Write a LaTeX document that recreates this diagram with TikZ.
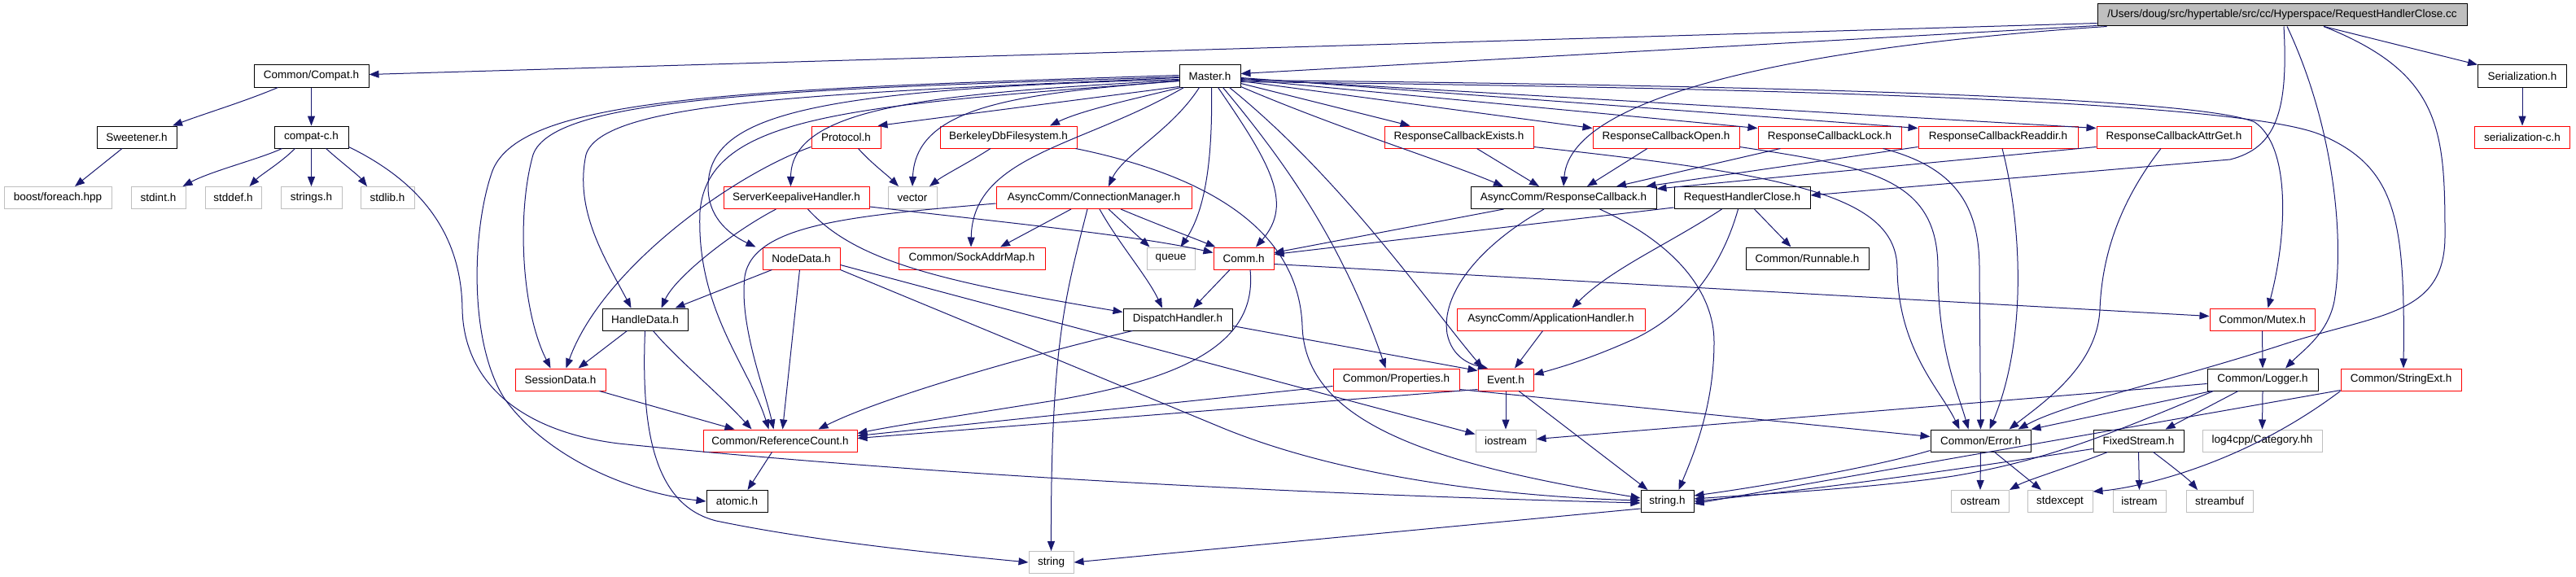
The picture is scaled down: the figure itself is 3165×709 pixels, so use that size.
\documentclass[tikz,border=0pt]{standalone}
\usepackage{fontspec}
\setmainfont{Liberation Sans}
\usetikzlibrary{arrows.meta,calc}
\definecolor{edgec}{HTML}{191970}
\definecolor{grayc}{HTML}{BFBFBF}
\definecolor{redc}{HTML}{FF0000}
\tikzset{
  nd/.style={draw, rectangle, minimum height=27pt, inner sep=0pt, line width=1pt,
    font=\fontsize{13.5}{16}\selectfont, text=black},
  blk/.style={nd, draw=black},
  redn/.style={nd, draw=redc},
  grayn/.style={nd, draw=grayc},
  e/.style={draw=edgec, line width=1pt, -{Triangle[length=12pt,width=9pt]}}
}
\begin{document}
\begin{tikzpicture}[x=1pt,y=-1pt]
\fill[white] (0,0) rectangle (3165,709);
\useasboundingbox (0,0) rectangle (3165,709);
% row 0
\node[blk, fill=grayc, minimum width=454pt] (cc) at (2804,18.5) {/Users/doug/src/hypertable/src/cc/Hyperspace/RequestHandlerClose.cc};
% row 1
\node[blk, minimum width=141pt] (compat) at (382.5,93.5) {Common/Compat.h};
\node[blk, minimum width=75pt] (master) at (1486.5,93.5) {Master.h};
\node[blk, minimum width=109pt] (serial) at (3099,93.5) {Serialization.h};
% row 2
\node[blk, minimum width=98pt] (sweet) at (168,168.5) {Sweetener.h};
\node[blk, minimum width=91pt] (compatc) at (382.5,168.5) {compat-c.h};
\node[redn, minimum width=85pt] (protocol) at (1039.5,168.5) {Protocol.h};
\node[redn, minimum width=168pt] (berkeley) at (1239,168.5) {BerkeleyDbFilesystem.h};
\node[redn, minimum width=183pt] (exists) at (1792.5,168.5) {ResponseCallbackExists.h};
\node[redn, minimum width=180pt] (open) at (2047,168.5) {ResponseCallbackOpen.h};
\node[redn, minimum width=176pt] (lock) at (2248,168.5) {ResponseCallbackLock.h};
\node[redn, minimum width=196pt] (readdir) at (2455,168.5) {ResponseCallbackReaddir.h};
\node[redn, minimum width=190pt] (attrget) at (2671,168.5) {ResponseCallbackAttrGet.h};
\node[redn, minimum width=117pt] (serialc) at (3099,168.5) {serialization-c.h};
% row 3
\node[grayn, minimum width=132pt] (boost) at (71,243) {boost/foreach.hpp};
\node[grayn, minimum width=67pt] (stdint) at (194.5,243) {stdint.h};
\node[grayn, minimum width=69pt] (stddef) at (286.5,243) {stddef.h};
\node[grayn, minimum width=75pt] (strings) at (382.5,243) {strings.h};
\node[grayn, minimum width=66pt] (stdlib) at (476,243) {stdlib.h};
\node[redn, minimum width=179pt] (skh) at (978.5,243) {ServerKeepaliveHandler.h};
\node[grayn, minimum width=60pt] (vector) at (1121,243) {vector};
\node[redn, minimum width=240pt] (cm) at (1344,243) {AsyncComm/ConnectionManager.h};
\node[blk, minimum width=228pt] (rcb) at (1921,243) {AsyncComm/ResponseCallback.h};
\node[blk, minimum width=167pt] (rhc) at (2140.5,243) {RequestHandlerClose.h};
% row 4
\node[redn, minimum width=95pt] (nodedata) at (984.5,317.5) {NodeData.h};
\node[redn, minimum width=180pt] (sockaddr) at (1194,317.5) {Common/SockAddrMap.h};
\node[grayn, minimum width=59pt] (queue) at (1438.5,317.5) {queue};
\node[redn, minimum width=74pt] (comm) at (1528,317.5) {Comm.h};
\node[blk, minimum width=151pt] (runnable) at (2220.5,317.5) {Common/Runnable.h};
% row 5
\node[blk, minimum width=105pt] (handledata) at (792.5,392.5) {HandleData.h};
\node[blk, minimum width=134pt] (dispatch) at (1447,392.5) {DispatchHandler.h};
\node[redn, minimum width=231pt] (apphandler) at (1905.5,392.5) {AsyncComm/ApplicationHandler.h};
\node[redn, minimum width=129pt] (mutex) at (2779.5,392.5) {Common/Mutex.h};
% row 6
\node[redn, minimum width=111pt] (sessiondata) at (688.5,466.5) {SessionData.h};
\node[redn, minimum width=155pt] (properties) at (1715.5,466.5) {Common/Properties.h};
\node[redn, minimum width=68pt] (event) at (1850,466.5) {Event.h};
\node[blk, minimum width=136pt] (logger) at (2780,466.5) {Common/Logger.h};
\node[redn, minimum width=148pt] (stringext) at (2950,466.5) {Common/StringExt.h};
% row 7
\node[redn, minimum width=189pt] (refcount) at (958.5,541.5) {Common/ReferenceCount.h};
\node[grayn, minimum width=74pt] (iostream) at (1850,541.5) {iostream};
\node[blk, minimum width=123pt] (error) at (2433.5,541.5) {Common/Error.h};
\node[blk, minimum width=111pt] (fixedstream) at (2627.5,541.5) {FixedStream.h};
\node[grayn, minimum width=147pt] (log4cpp) at (2779.5,541.5) {log4cpp/Category.hh};
% row 8
\node[blk, minimum width=75pt] (atomic) at (905.5,616) {atomic.h};
\node[blk, minimum width=65pt] (stringh) at (2048.5,616) {string.h};
\node[grayn, minimum width=71pt] (ostream) at (2433,616) {ostream};
\node[grayn, minimum width=80pt] (stdexcept) at (2531,616) {stdexcept};
\node[grayn, minimum width=65pt] (istream) at (2628.5,616) {istream};
\node[grayn, minimum width=82pt] (streambuf) at (2727,616) {streambuf};
% row 9
\node[grayn, minimum width=55pt] (string) at (1291.5,691) {string};

% ---- edges from cc
\draw[e] ($(cc.south west)+(0,-4)$) -- ($(compat.east)+(0,-2)$);
\draw[e] ($(cc.south west)+(0,-1)$) -- ($(master.east)+(0,-3)$);
\draw[e] ($(cc.south west)+(12,0)$) .. controls (2250,55) and (1930,110) .. (rcb.north);
\draw[e] ($(cc.south)+(2,0)$) .. controls (2812,140) and (2795,182) .. (2740,196) -- ($(rhc.east)+(0,-3)$);
\draw[e] ($(cc.south)+(6,0)$) .. controls (2870,160) and (2880,300) .. (2868,370) .. controls (2860,410) and (2830,430) .. ($(logger.north)+(28,0)$);
\draw[e] ($(cc.south)+(51,0)$) -- (serial.north west);
\draw[e] ($(cc.south)+(51,0)$) .. controls (3000,90) and (3004,160) .. (3004,290) .. controls (3004,390) and (2920,385) .. (2800,425) .. controls (2660,470) and (2540,495) .. ($(error.north)+(46,0)$);

% ---- compat
\draw[e] ($(compat.south west)+(30,0)$) .. controls (300,125) and (250,140) .. ($(sweet.north)+(44,0)$);
\draw[e] (compat.south) -- (compatc.north);
\draw[e] ($(sweet.south)+(-18,0)$) -- ($(boost.north)+(21,0)$);
\draw[e] ($(compatc.south west)+(10,0)$) .. controls (320,195) and (260,210) .. ($(stdint.north)+(30,0)$);
\draw[e] ($(compatc.south west)+(26,0)$) .. controls (345,200) and (320,215) .. ($(stddef.north)+(20,0)$);
\draw[e] (compatc.south) -- (strings.north);
\draw[e] ($(compatc.south)+(18,0)$) .. controls (420,200) and (440,215) .. ($(stdlib.north)+(-25,0)$);
\draw[e] ($(compatc.south east)+(0,-2)$) .. controls (530,230) and (567,300) .. (568,380) .. controls (570,470) and (640,530) .. (760,545) .. controls (1200,590) and (1700,610) .. ($(stringh.west)+(0,2)$);

% ---- master
\draw[e] ($(master.south west)+(0,-1)$) -- ($(protocol.north east)+(-4,0)$);
\draw[e] ($(master.south west)+(2,0)$) .. controls (1400,120) and (1330,135) .. ($(berkeley.north)+(51,0)$);
\draw[e] ($(master.west)+(0,6)$) .. controls (1250,115) and (1125,130) .. (vector.north);
\draw[e] ($(master.west)+(0,5)$) .. controls (1150,115) and (972,130) .. ($(skh.north)+(-7,0)$);
\draw[e] ($(master.west)+(0,4)$) .. controls (1000,110) and (870,140) .. (870,230) .. controls (870,270) and (900,290) .. ($(nodedata.north)+(-56,0)$);
\draw[e] ($(master.west)+(0,6)$) .. controls (1050,130) and (870,140) .. (860,260) .. controls (855,380) and (920,450) .. ($(refcount.north)+(-14,0)$);
\draw[e] ($(master.west)+(0,2)$) .. controls (1000,115) and (740,125) .. (720,190) .. controls (705,260) and (745,320) .. ($(handledata.north)+(-17,0)$);
\draw[e] ($(master.west)+(0,1)$) .. controls (950,110) and (680,120) .. (655,190) .. controls (635,260) and (640,380) .. ($(sessiondata.north)+(-12,0)$);
\draw[e] ($(master.west)+(0,-1)$) .. controls (900,110) and (640,120) .. (605,210) .. controls (580,280) and (575,420) .. (620,490) .. controls (670,560) and (770,605) .. (atomic.west);
\draw[e] ($(master.south west)+(6,0)$) .. controls (1330,180) and (1195,190) .. ($(sockaddr.north)+(-1,0)$);
\draw[e] ($(master.south)+(-13,0)$) .. controls (1440,160) and (1380,190) .. ($(cm.north)+(18,0)$);
\draw[e] ($(master.south)+(2,0)$) .. controls (1490,200) and (1480,260) .. ($(queue.north)+(12,0)$);
\draw[e] ($(master.south)+(10,0)$) .. controls (1560,200) and (1590,250) .. ($(comm.north)+(15,0)$);
\draw[e] ($(master.south)+(16,0)$) .. controls (1580,200) and (1650,300) .. ($(properties.north)+(-13,0)$);
\draw[e] ($(master.south east)+(-14,0)$) .. controls (1650,220) and (1760,380) .. ($(event.north)+(-28,0)$);
\draw[e] ($(master.south east)+(0,-1)$) .. controls (1650,160) and (1780,200) .. ($(rcb.north)+(-74,0)$);
\draw[e] ($(master.east)+(0,9)$) -- ($(exists.north)+(-60,0)$);
\draw[e] ($(master.east)+(0,6)$) -- ($(open.north west)+(0,3)$);
\draw[e] ($(master.east)+(0,4)$) -- ($(lock.north west)+(0,3)$);
\draw[e] ($(master.east)+(0,2)$) -- ($(readdir.north west)+(0,3)$);
\draw[e] ($(master.east)+(0,3)$) -- ($(attrget.north west)+(0,3)$);
\draw[e] ($(master.east)+(0,5)$) .. controls (2200,105) and (2700,120) .. (2770,150) .. controls (2815,180) and (2810,290) .. ($(mutex.north)+(7,0)$);
\draw[e] ($(master.east)+(0,7)$) .. controls (2200,108) and (2750,125) .. (2850,165) .. controls (2945,205) and (2955,270) .. ($(stringext.north)+(3,0)$);

% ---- protocol, berkeley
\draw[e] ($(protocol.south)+(15,0)$) .. controls (1070,200) and (1090,215) .. ($(vector.north)+(-17,0)$);
\draw[e] ($(protocol.south west)+(0,-2)$) .. controls (900,215) and (740,330) .. ($(sessiondata.north)+(7,0)$);
\draw[e] ($(berkeley.south)+(-22,0)$) .. controls (1190,200) and (1160,215) .. ($(vector.north)+(21,0)$);
\draw[e] ($(berkeley.south east)+(-2,0)$) .. controls (1480,215) and (1595,280) .. (1600,400) .. controls (1603,520) and (1760,570) .. ($(stringh.west)+(0,-4)$);

% ---- server keepalive
\draw[e] ($(skh.south)+(-25,0)$) .. controls (900,285) and (830,340) .. ($(handledata.north)+(20,0)$);
\draw[e] ($(skh.east)+(0,11)$) .. controls (1250,275) and (1400,290) .. ($(comm.west)+(0,-7)$);
\draw[e] ($(skh.south)+(14,0)$) .. controls (1050,320) and (1150,345) .. ($(dispatch.north west)+(0,5)$);

% ---- node data
\draw[e] ($(nodedata.south)+(-36,0)$) -- ($(handledata.north)+(37,0)$);
\draw[e] ($(nodedata.south)+(-2,0)$) -- ($(refcount.north)+(3,0)$);
\draw[e] ($(nodedata.east)+(0,8)$) -- ($(iostream.west)+(0,-8)$);
\draw[e] (nodedata.south east) -- (1500,525) .. controls (1650,587) and (1850,610) .. ($(stringh.west)+(0,-1)$);

% ---- handle data, session data, refcount
\draw[e] ($(handledata.south)+(-22,0)$) -- ($(sessiondata.north)+(22,0)$);
\draw[e] ($(handledata.south)+(10,0)$) .. controls (830,440) and (880,480) .. ($(refcount.north)+(-35,0)$);
\draw[e] (handledata.south) .. controls (788,520) and (800,620) .. (880,640) .. controls (1000,665) and (1150,680) .. (string.west);
\draw[e] ($(sessiondata.south east)+(-8,0)$) -- ($(refcount.north)+(-56,0)$);
\draw[e] ($(refcount.south)+(-10,0)$) -- ($(atomic.north)+(13,0)$);

% ---- connection manager
\draw[e] ($(cm.south)+(-28,0)$) -- ($(sockaddr.north)+(35,0)$);
\draw[e] ($(cm.south)+(18,0)$) -- ($(queue.north west)+(4,0)$);
\draw[e] ($(cm.south)+(33,0)$) .. controls (1420,275) and (1460,290) .. ($(comm.north west)+(3,0)$);
\draw[e] ($(cm.south)+(7,0)$) .. controls (1375,300) and (1410,340) .. ($(dispatch.north)+(-19,0)$);
\draw[e] ($(cm.south)+(-8,0)$) .. controls (1310,360) and (1291,420) .. (string.north);
\draw[e] ($(cm.west)+(0,7)$) .. controls (1050,265) and (925,275) .. (915,340) .. controls (908,400) and (940,480) .. ($(refcount.north)+(-8,0)$);

% ---- comm
\draw[e] ($(comm.south)+(-17,0)$) -- ($(dispatch.north)+(19,0)$);
\draw[e] ($(comm.south)+(8,0)$) .. controls (1545,420) and (1460,465) .. (1290,493) .. controls (1150,515) and (1090,525) .. ($(refcount.east)+(0,-9)$);
\draw[e] ($(comm.east)+(0,7)$) -- ($(mutex.west)+(0,-4)$);

% ---- dispatch
\draw[e] ($(dispatch.east)+(0,8)$) -- ($(event.west)+(0,-11)$);
\draw[e] ($(dispatch.south west)+(12,0)$) .. controls (1250,440) and (1080,490) .. ($(refcount.north)+(47,0)$);

% ---- request handler close
\draw[e] ($(rhc.south west)+(0,-2)$) -- ($(comm.east)+(0,-5)$);
\draw[e] ($(rhc.south)+(15,0)$) -- ($(runnable.north)+(-20,0)$);
\draw[e] ($(rhc.south)+(-25,0)$) .. controls (2050,300) and (1980,330) .. ($(apphandler.north)+(26,0)$);
\draw[e] ($(rhc.south)+(-5,0)$) .. controls (2115,330) and (2070,390) .. (2000,420) .. controls (1950,442) and (1915,452) .. ($(event.east)+(0,-6)$);

% ---- response callback
\draw[e] ($(rcb.south west)+(41,0)$) -- ($(comm.east)+(0,-7)$);
\draw[e] ($(rcb.south)+(-24,0)$) .. controls (1820,300) and (1770,360) .. (1778,410) .. controls (1784,440) and (1808,448) .. ($(event.north)+(-22,0)$);
\draw[e] ($(rcb.south east)+(-70,0)$) .. controls (2060,300) and (2106,360) .. (2106,420) .. controls (2106,500) and (2080,560) .. ($(stringh.north)+(14,0)$);

% ---- application handler, event, properties
\draw[e] ($(apphandler.south)+(-10,0)$) -- ($(event.north)+(11,0)$);
\draw[e] (event.south) -- (iostream.north);
\draw[e] ($(event.south)+(16,0)$) -- ($(stringh.north)+(-24,0)$);
\draw[e] ($(event.south west)+(0,-2)$) -- ($(refcount.east)+(0,-3)$);
\draw[e] ($(properties.west)+(0,8)$) -- ($(refcount.east)+(0,-6)$);
\draw[e] ($(properties.south east)+(0,-2)$) -- ($(error.west)+(0,-5)$);

% ---- response callbacks
\draw[e] ($(exists.south)+(22,0)$) -- ($(rcb.north)+(-30,0)$);
\draw[e] ($(exists.south east)+(0,-2)$) .. controls (2200,215) and (2330,240) .. (2331,330) .. controls (2332,430) and (2385,480) .. ($(error.north)+(-26,0)$);
\draw[e] ($(open.south)+(-23,0)$) -- ($(rcb.north)+(29,0)$);
\draw[e] ($(open.south east)+(0,-2)$) .. controls (2300,205) and (2381,220) .. (2381,330) .. controls (2381,430) and (2405,480) .. ($(error.north)+(-15,0)$);
\draw[e] ($(lock.south west)+(28,0)$) -- ($(rcb.north)+(65,0)$);
\draw[e] ($(lock.south east)+(-23,0)$) .. controls (2400,205) and (2432,250) .. (2432,330) -- (error.north);
\draw[e] ($(readdir.south west)+(0,-2)$) -- ($(rcb.north east)+(-13,0)$);
\draw[e] ($(readdir.south)+(5,0)$) .. controls (2485,280) and (2490,420) .. ($(error.north)+(11,0)$);
\draw[e] ($(attrget.south west)+(0,-2)$) -- ($(rcb.north east)+(0,3)$);
\draw[e] ($(attrget.south)+(-16,0)$) .. controls (2595,260) and (2582,330) .. (2580,380) .. controls (2577,450) and (2510,495) .. ($(error.north)+(35,0)$);

% ---- mutex, logger, stringext
\draw[e] (mutex.south) -- (logger.north);
\draw[e] ($(logger.west)+(0,5)$) -- ($(iostream.east)+(0,-2)$);
\draw[e] ($(logger.south west)+(6,0)$) -- (error.north east);
\draw[e] ($(logger.south)+(-30,0)$) -- ($(fixedstream.north)+(33,0)$);
\draw[e] (logger.south) -- (log4cpp.north);
\draw[e] ($(logger.south west)+(8,0)$) .. controls (2600,530) and (2520,565) .. (2400,585) .. controls (2300,600) and (2150,608) .. ($(stringh.east)+(0,-3)$);
\draw[e] ($(stringext.south west)+(0,-1)$) -- ($(stringh.east)+(0,3)$);
\draw[e] (stringext.south west) .. controls (2750,575) and (2620,600) .. ($(stdexcept.north east)+(0,2)$);

% ---- error, fixedstream
\draw[e] (error.south) -- (ostream.north);
\draw[e] ($(error.south)+(17,0)$) -- ($(stdexcept.north)+(-23,0)$);
\draw[e] ($(error.south west)+(0,-2)$) .. controls (2300,575) and (2150,600) .. ($(stringh.east)+(0,-7)$);
\draw[e] ($(fixedstream.south west)+(18,0)$) .. controls (2540,575) and (2490,590) .. (ostream.north east);
\draw[e] (fixedstream.south) -- (istream.north);
\draw[e] ($(fixedstream.south)+(18,0)$) .. controls (2665,570) and (2690,590) .. ($(streambuf.north)+(-27,0)$);
\draw[e] ($(fixedstream.west)+(0,10)$) .. controls (2450,570) and (2250,600) .. (stringh.east);

% ---- misc
\draw[e] ($(stringh.west)+(0,9)$) -- (string.east);
\draw[e] (serial.south) -- (serialc.north);
\end{tikzpicture}
\end{document}
